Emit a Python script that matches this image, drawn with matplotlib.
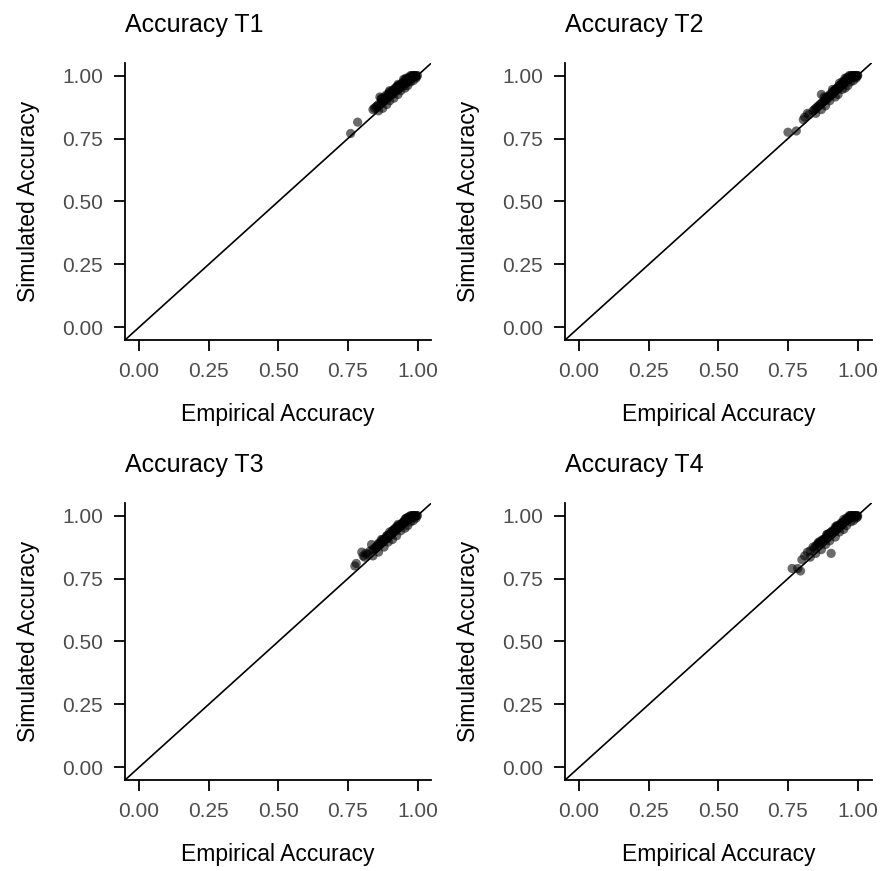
import matplotlib.pyplot as plt

plt.rcParams["font.family"] = ["Liberation Sans", "DejaVu Sans"]

titles = ["Accuracy T1", "Accuracy T2", "Accuracy T3", "Accuracy T4"]
ticks = [0.0, 0.25, 0.5, 0.75, 1.0]
tick_labels = ["0.00", "0.25", "0.50", "0.75", "1.00"]

emp_t1 = [0.76, 0.785, 0.84, 0.845, 0.85, 0.855, 0.86, 0.865, 0.87, 0.87,
          0.875, 0.88, 0.88, 0.885, 0.89, 0.89, 0.895, 0.90, 0.90, 0.905,
          0.91, 0.91, 0.915, 0.92, 0.92, 0.925, 0.93, 0.93, 0.935, 0.94,
          0.94, 0.945, 0.95, 0.95, 0.955, 0.96, 0.96, 0.965, 0.97, 0.97,
          0.975, 0.98, 0.98, 0.985, 0.99, 0.99, 0.995, 1.00, 0.965, 0.975,
          0.88, 0.895, 0.905, 0.915, 0.925, 0.935, 0.945, 0.955, 0.96, 0.985,
          0.99, 0.995, 0.975, 0.95, 0.93,
          0.86, 0.875, 0.89, 0.90, 0.915, 0.93, 0.94, 0.955, 0.965, 0.975,
          0.985, 0.995, 0.87, 0.90, 0.93, 0.95]
sim_t1 = [0.77, 0.815, 0.865, 0.87, 0.875, 0.88, 0.885, 0.915, 0.89, 0.905,
          0.90, 0.90, 0.915, 0.91, 0.91, 0.925, 0.92, 0.92, 0.935, 0.925,
          0.925, 0.94, 0.935, 0.935, 0.95, 0.945, 0.945, 0.955, 0.95, 0.955,
          0.965, 0.96, 0.96, 0.975, 0.97, 0.97, 0.98, 0.975, 0.98, 0.99,
          0.985, 0.99, 1.00, 0.995, 0.995, 1.00, 1.00, 1.00, 0.99, 1.00,
          0.905, 0.925, 0.93, 0.945, 0.955, 0.96, 0.97, 0.985, 0.99, 1.00,
          1.00, 0.995, 0.995, 0.97, 0.96,
          0.86, 0.87, 0.885, 0.90, 0.91, 0.925, 0.94, 0.95, 0.96, 0.975,
          0.98, 0.99, 0.91, 0.94, 0.965, 0.985]

emp_t2 = [0.75, 0.78, 0.805, 0.81, 0.82, 0.825, 0.84, 0.845, 0.85, 0.855,
          0.86, 0.865, 0.87, 0.87, 0.875, 0.88, 0.885, 0.89, 0.89, 0.895,
          0.90, 0.905, 0.91, 0.91, 0.915, 0.92, 0.925, 0.93, 0.93, 0.935,
          0.94, 0.945, 0.95, 0.95, 0.955, 0.96, 0.965, 0.97, 0.97, 0.975,
          0.98, 0.98, 0.985, 0.99, 0.99, 0.995, 1.00, 1.00, 0.96, 0.975,
          0.885, 0.90, 0.915, 0.92, 0.935, 0.94, 0.95, 0.96, 0.965, 0.985,
          0.99, 0.995, 0.97, 0.945, 0.925,
          0.85, 0.87, 0.885, 0.90, 0.92, 0.93, 0.945, 0.955, 0.965, 0.975,
          0.985, 0.995, 0.88, 0.91, 0.935, 0.955]
sim_t2 = [0.775, 0.78, 0.825, 0.835, 0.85, 0.845, 0.86, 0.865, 0.87, 0.875,
          0.88, 0.885, 0.925, 0.89, 0.895, 0.90, 0.905, 0.905, 0.915, 0.915,
          0.92, 0.925, 0.925, 0.935, 0.935, 0.94, 0.945, 0.945, 0.955, 0.955,
          0.96, 0.965, 0.965, 0.975, 0.975, 0.98, 0.985, 0.985, 0.995, 0.99,
          0.995, 1.00, 1.00, 1.00, 0.995, 1.00, 1.00, 1.00, 0.985, 1.00,
          0.91, 0.925, 0.94, 0.945, 0.96, 0.965, 0.975, 0.99, 0.99, 1.00,
          1.00, 0.995, 1.00, 0.975, 0.95,
          0.85, 0.865, 0.88, 0.90, 0.915, 0.925, 0.945, 0.95, 0.96, 0.975,
          0.98, 0.99, 0.915, 0.945, 0.97, 0.99]

emp_t3 = [0.775, 0.78, 0.80, 0.805, 0.81, 0.815, 0.82, 0.83, 0.835, 0.84,
          0.845, 0.85, 0.855, 0.86, 0.865, 0.87, 0.875, 0.88, 0.885, 0.89,
          0.89, 0.895, 0.90, 0.905, 0.91, 0.91, 0.915, 0.92, 0.925, 0.93,
          0.93, 0.935, 0.94, 0.945, 0.95, 0.95, 0.955, 0.96, 0.965, 0.97,
          0.97, 0.975, 0.98, 0.985, 0.99, 0.99, 0.995, 1.00, 0.96, 0.98,
          0.86, 0.875, 0.89, 0.905, 0.915, 0.925, 0.94, 0.95, 0.96, 0.975,
          0.985, 0.995, 0.97, 0.945, 0.92,
          0.84, 0.86, 0.88, 0.895, 0.91, 0.925, 0.94, 0.955, 0.965, 0.975,
          0.985, 0.995, 0.87, 0.90, 0.93, 0.955]
sim_t3 = [0.80, 0.81, 0.855, 0.84, 0.835, 0.85, 0.845, 0.86, 0.885, 0.865,
          0.87, 0.875, 0.88, 0.885, 0.89, 0.895, 0.90, 0.905, 0.91, 0.91,
          0.92, 0.92, 0.925, 0.93, 0.93, 0.94, 0.94, 0.945, 0.95, 0.95,
          0.96, 0.955, 0.96, 0.965, 0.97, 0.975, 0.975, 0.98, 0.985, 0.985,
          0.995, 0.99, 0.995, 1.00, 1.00, 0.995, 1.00, 1.00, 0.99, 1.00,
          0.89, 0.905, 0.92, 0.93, 0.945, 0.955, 0.965, 0.975, 0.99, 1.00,
          1.00, 1.00, 0.995, 0.97, 0.95,
          0.84, 0.855, 0.875, 0.895, 0.905, 0.92, 0.94, 0.95, 0.96, 0.975,
          0.98, 0.99, 0.905, 0.935, 0.965, 0.985]

emp_t4 = [0.765, 0.785, 0.795, 0.905, 0.80, 0.81, 0.82, 0.83, 0.84, 0.845,
          0.85, 0.855, 0.86, 0.865, 0.87, 0.875, 0.88, 0.885, 0.89, 0.89,
          0.895, 0.90, 0.905, 0.91, 0.915, 0.92, 0.92, 0.925, 0.93, 0.935,
          0.94, 0.94, 0.945, 0.95, 0.955, 0.96, 0.96, 0.965, 0.97, 0.975,
          0.975, 0.98, 0.985, 0.99, 0.99, 0.995, 1.00, 1.00, 0.965, 0.98,
          0.865, 0.88, 0.895, 0.91, 0.92, 0.93, 0.945, 0.955, 0.965, 0.975,
          0.985, 0.995, 0.97, 0.95, 0.90,
          0.83, 0.85, 0.87, 0.885, 0.90, 0.92, 0.935, 0.95, 0.96, 0.975,
          0.985, 0.995, 0.86, 0.89, 0.925, 0.95]
sim_t4 = [0.79, 0.79, 0.78, 0.85, 0.825, 0.84, 0.855, 0.86, 0.875, 0.87,
          0.88, 0.885, 0.89, 0.895, 0.90, 0.905, 0.905, 0.91, 0.915, 0.925,
          0.925, 0.93, 0.935, 0.94, 0.94, 0.945, 0.955, 0.955, 0.96, 0.96,
          0.965, 0.97, 0.97, 0.975, 0.98, 0.98, 0.99, 0.985, 0.99, 0.995,
          1.00, 0.995, 1.00, 1.00, 0.995, 1.00, 1.00, 0.995, 0.99, 1.00,
          0.89, 0.905, 0.92, 0.935, 0.945, 0.955, 0.97, 0.98, 0.99, 1.00,
          1.00, 1.00, 1.00, 0.975, 0.93,
          0.835, 0.85, 0.865, 0.885, 0.90, 0.915, 0.935, 0.945, 0.96, 0.975,
          0.98, 0.99, 0.895, 0.925, 0.96, 0.985]

emp = [emp_t1, emp_t2, emp_t3, emp_t4]
sim = [sim_t1, sim_t2, sim_t3, sim_t4]

fig = plt.figure(figsize=(8.83, 8.71), dpi=100)

# panel boxes in figure fractions (left, bottom, width, height)
boxes = [
    (0.1416, 0.6097, 0.347, 0.318),
    (0.6400, 0.6097, 0.347, 0.318),
    (0.1416, 0.1045, 0.347, 0.318),
    (0.6400, 0.1045, 0.347, 0.318),
]

for i, box in enumerate(boxes):
    ax = fig.add_axes(box)
    ax.axline((0, 0), slope=1, color="black", lw=1.2, zorder=1)
    ax.scatter(emp[i], sim[i], s=44, color="black", alpha=0.58,
               edgecolors="none", zorder=2)

    ax.set_xlim(-0.05, 1.05)
    ax.set_ylim(-0.05, 1.05)
    ax.set_xticks(ticks, tick_labels)
    ax.set_yticks(ticks, tick_labels)

    for side in ["top", "right"]:
        ax.spines[side].set_visible(False)
    for side in ["left", "bottom"]:
        ax.spines[side].set_linewidth(1.3)
        ax.spines[side].set_color("black")

    ax.tick_params(length=8, width=1.3, color="black", pad=8,
                   labelsize=15, labelcolor="#4D4D4D")
    ax.set_xlabel("Empirical Accuracy", fontsize=16.5, labelpad=16)
    ax.set_ylabel("Simulated Accuracy", fontsize=16.5, labelpad=16)
    ax.set_title(titles[i], loc="left", fontsize=18, pad=22)

fig.savefig("out.png", dpi=100)
